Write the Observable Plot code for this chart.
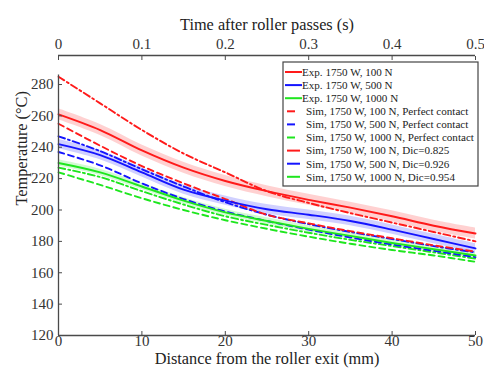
<!DOCTYPE html>
<html><head><meta charset="utf-8">
<script src="https://cdn.jsdelivr.net/npm/d3@7"></script>
<script src="https://cdn.jsdelivr.net/npm/@observablehq/plot@0.6"></script>
<style>
body{margin:0;background:#fff}
svg, svg text { font-family: "Liberation Serif", "Times New Roman", Tinos, "DejaVu Serif", serif !important; }
</style>
</head><body><div id="chart"></div>
<script>
// Distance from roller exit (mm)
const distance = [0, 5, 10, 15, 20, 25, 30, 35, 40, 45, 50];

// Experimental (solid with uncertainty band)
const exp100  = [261, 251, 238, 227, 218.5, 212, 206.5, 201.5, 196, 190, 185];
const exp100Err = [3.5, 3.5, 3.5, 3.5, 3.5, 3.5, 3.5, 3.5, 3.5, 3.5, 3.5];
const exp500  = [242, 235, 224, 213, 206, 200.5, 197, 193, 187.5, 181.5, 175.5];
const exp500Err = [3, 3, 3, 3, 3, 3, 3, 3, 3, 3, 3];
const exp1000 = [230, 224, 215, 206, 198.5, 193, 188, 183.5, 179, 175, 171];
const exp1000Err = [2, 2, 2, 2, 2, 2, 2, 2, 2, 2, 2];

// Simulation, perfect contact (dashed)
const simPc100  = [255, 241, 228, 217, 207, 197, 191.5, 186.5, 182, 177.5, 173.5];
const simPc500  = [237, 228.5, 217, 207, 199, 193, 187.5, 182.5, 178, 174, 170];
const simPc1000 = [224, 216, 207.5, 200, 193.5, 188, 183, 178.5, 174.5, 171, 167];

// Simulation, degree of intimate contact (dash-dot)
const simDic100  = [285, 268, 251, 236, 224, 212, 204.5, 198, 192, 186, 180];
const simDic500  = [247, 237.5, 226, 215, 205, 197, 191, 186, 181.5, 177, 173];
const simDic1000 = [227, 221, 212, 203.5, 196, 190.5, 185.5, 181, 177, 173, 169];

const xTicks = [0, 10, 20, 30, 40, 50];
const timeTickLabels = ["0", "0.1", "0.2", "0.3", "0.4", "0.5"];
const yTicks = [120, 140, 160, 180, 200, 220, 240, 260, 280];
const yMin = 120, yTop = 298.5, yAxisEnd = 286;

const legendLabels = [
  "Exp. 1750 W, 100 N",
  "Exp. 1750 W, 500 N",
  "Exp. 1750 W, 1000 N",
  "Sim, 1750 W, 100 N, Perfect contact",
  "Sim, 1750 W, 500 N, Perfect contact",
  "Sim, 1750 W, 1000 N, Perfect contact",
  "Sim, 1750 W, 100 N, Dic=0.825",
  "Sim, 1750 W, 500 N, Dic=0.926",
  "Sim, 1750 W, 1000 N, Dic=0.954"
];

const RED = "#ff1a1a", BLUE = "#1414ff", GREEN = "#1ee61e";
const DASH = "6,4", DASHDOT = "7,3,2,3";

const series = [
  {label: legendLabels[0], v: exp100, err: exp100Err, color: RED, dash: null, kind: "exp"},
  {label: legendLabels[1], v: exp500, err: exp500Err, color: BLUE, dash: null, kind: "exp"},
  {label: legendLabels[2], v: exp1000, err: exp1000Err, color: GREEN, dash: null, kind: "exp"},
  {label: legendLabels[3], v: simPc100, color: RED, dash: DASH, kind: "pc"},
  {label: legendLabels[4], v: simPc500, color: BLUE, dash: DASH, kind: "pc"},
  {label: legendLabels[5], v: simPc1000, color: GREEN, dash: DASH, kind: "pc"},
  {label: legendLabels[6], v: simDic100, color: RED, dash: DASHDOT, kind: "dic"},
  {label: legendLabels[7], v: simDic500, color: BLUE, dash: DASHDOT, kind: "dic"},
  {label: legendLabels[8], v: simDic1000, color: GREEN, dash: DASHDOT, kind: "dic"}
];
const rows = s => distance.map((x, i) => ({x, y: s.v[i], lo: s.err ? s.v[i] - s.err[i] : null, hi: s.err ? s.v[i] + s.err[i] : null}));

const marks = [];
for (const s of series.filter(s => s.kind === "exp")) {
  marks.push(Plot.areaY(rows(s), {x: "x", y1: "lo", y2: "hi", fill: s.color, fillOpacity: 0.2, curve: "catmull-rom"}));
}
for (const s of [...series].reverse()) {
  marks.push(Plot.line(rows(s), {x: "x", y: "y", stroke: s.color, strokeWidth: 1.9, strokeDasharray: s.dash, curve: "catmull-rom"}));
}

const axisColor = "#4a4a4a";
const font = '"Liberation Serif", "Times New Roman", Tinos, "DejaVu Serif", serif';

const chart = Plot.plot({
  width: 484, height: 376,
  marginLeft: 58, marginRight: 9, marginTop: 55, marginBottom: 41,
  style: {fontFamily: font, fontSize: "15px", color: "#333", background: "#fff"},
  x: {domain: [0, 50]},
  y: {domain: [yMin, yTop]},
  marks: [
    ...marks,
    Plot.ruleY([yMin], {stroke: axisColor, strokeWidth: 1.3}),
    Plot.ruleY([yTop], {stroke: axisColor, strokeWidth: 1.3}),
    Plot.ruleX([0], {y1: yMin, y2: yAxisEnd, stroke: axisColor, strokeWidth: 1.3}),
    Plot.axisX({anchor: "bottom", ticks: xTicks, tickSize: -4, tickPadding: 4, stroke: axisColor, label: null, fontSize: 15}),
    Plot.axisX({anchor: "top", ticks: xTicks, tickSize: -4, tickPadding: 11, stroke: axisColor, label: null, fontSize: 15,
      tickFormat: d => timeTickLabels[xTicks.indexOf(d)]}),
    Plot.axisY({anchor: "left", ticks: yTicks, tickSize: -4, tickPadding: 9, stroke: axisColor, label: null, fontSize: 15}),
    Plot.text(["Time after roller passes (s)"], {frameAnchor: "top", dy: -37, fontSize: 16.3, fill: "#222"}),
    Plot.text(["Distance from the roller exit (mm)"], {frameAnchor: "bottom", dy: 28, fontSize: 16.3, fill: "#222"}),
    Plot.text(["Temperature (°C)"], {frameAnchor: "left", dx: -37, dy: 10, rotate: -90, fontSize: 16.3, fill: "#222"})
  ]
});
document.getElementById("chart").appendChild(chart);

// Legend (pixel layout inside the plot area)
const svg = d3.select(chart.tagName.toLowerCase() === "svg" ? chart : chart.querySelector("svg"));
const lg = svg.append("g").attr("font-family", font).attr("font-size", 11.1).attr("text-anchor", "start");
const bx = 283, by = 62, bw = 195, bh = 124, rowH = 13.1;
lg.append("rect").attr("x", bx).attr("y", by).attr("width", bw).attr("height", bh)
  .attr("fill", "#fff").attr("stroke", "#444").attr("stroke-width", 1.2);
series.forEach((s, i) => {
  const yy = by + 10 + i * rowH;
  const [x1, x2] = s.kind === "exp" ? [bx + 2, bx + 19] : s.kind === "pc" ? [bx + 4, bx + 12] : [bx + 4, bx + 17];
  lg.append("line").attr("x1", x1).attr("x2", x2).attr("y1", yy).attr("y2", yy)
    .attr("stroke", s.color).attr("stroke-width", 2);
  lg.append("text").attr("x", s.kind === "exp" ? bx + 19 : bx + 23).attr("y", yy).attr("dy", "0.35em")
    .attr("text-anchor", "start").attr("fill", "#222").text(s.label);
});
</script>
</body></html>
